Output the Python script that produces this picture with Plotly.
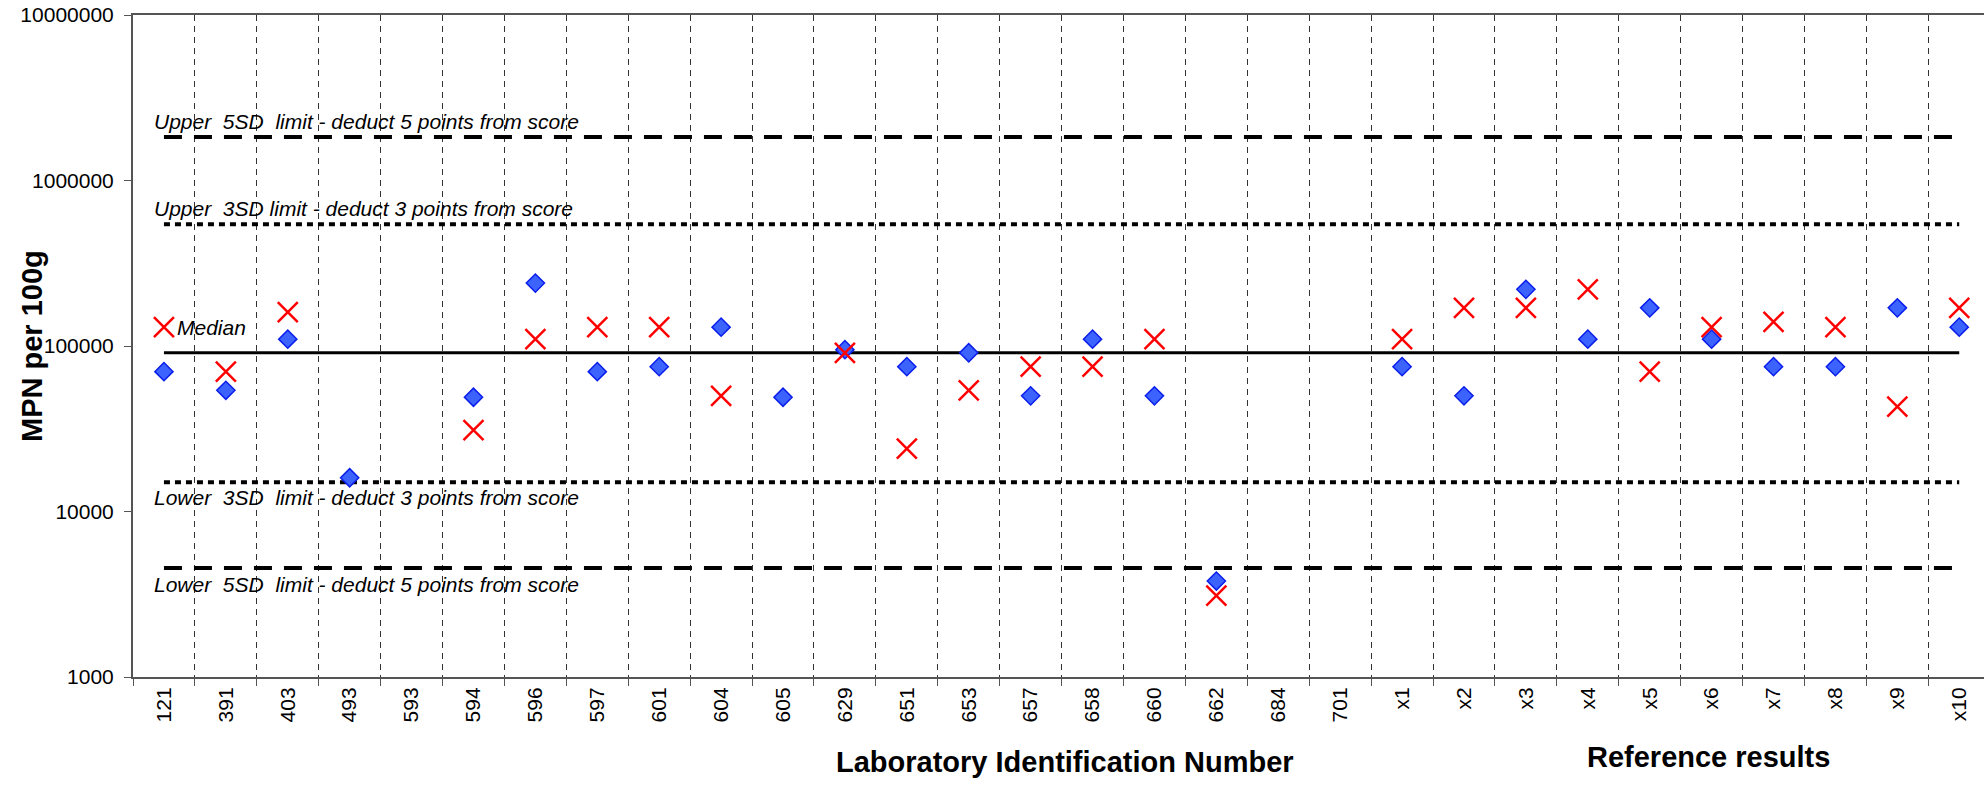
import math
import plotly.graph_objects as go

categories = ["121", "391", "403", "493", "593", "594", "596", "597", "601", "604",
              "605", "629", "651", "653", "657", "658", "660", "662", "684", "701",
              "x1", "x2", "x3", "x4", "x5", "x6", "x7", "x8", "x9", "x10"]

sample_a = [70000, 54000, 110000, 16000, None, 49000, 240000, 70000, 75000, 130000,
            49000, 95000, 75000, 91000, 50000, 110000, 50000, 3800, None, None,
            75000, 50000, 220000, 110000, 170000, 110000, 75000, 75000, 170000, 130000]

sample_b = [130000, 70000, 160000, None, None, 31000, 110000, 130000, 130000, 50000,
            None, 91000, 24000, 54000, 75000, 75000, 110000, 3100, None, None,
            110000, 170000, 170000, 220000, 70000, 130000, 140000, 130000, 43000, 170000]

limit_names = ["upper5", "upper3", "median", "lower3", "lower5"]
limit_values = [1830000, 545000, 91000, 15000, 4550]
limit_labels = ["Upper\u00a0\u00a05SD\u00a0\u00a0limit - deduct 5 points from score",
                "Upper\u00a0\u00a03SD limit - deduct 3 points from score",
                "Median",
                "Lower\u00a0\u00a03SD\u00a0\u00a0limit - deduct 3 points from score",
                "Lower\u00a0\u00a05SD\u00a0\u00a0limit - deduct 5 points from score"]

y_tick_values = [1000, 10000, 100000, 1000000, 10000000]
y_tick_text = ["1000", "10000", "100000", "1000000", "10000000"]

FONT = "Liberation Sans, Arial, sans-serif"

line_styles = {
    "upper5": dict(color="black", width=4, dash="18px,12px"),
    "upper3": dict(color="black", width=4, dash="6px,5px"),
    "median": dict(color="black", width=3),
    "lower3": dict(color="black", width=4, dash="6px,5px"),
    "lower5": dict(color="black", width=4, dash="18px,12px"),
}
label_shift = {"upper5": (-12, 16), "upper3": (-12, 16), "median": (11, 25),
               "lower3": (-12, -15), "lower5": (-12, -16)}

fig = go.Figure()

for name, val in zip(limit_names, limit_values):
    fig.add_trace(go.Scatter(x=[categories[0], categories[-1]], y=[val, val],
                             mode="lines", line=line_styles[name],
                             hoverinfo="skip", showlegend=False))

fig.add_trace(go.Scatter(x=categories, y=sample_a, mode="markers", name="A",
                         marker=dict(symbol="diamond", size=14, color="#3D63FF",
                                     line=dict(color="#0A1EEB", width=1.5)),
                         showlegend=False))
fig.add_trace(go.Scatter(x=categories, y=sample_b, mode="markers", name="B",
                         marker=dict(symbol="x-thin", size=20, color="#FF0000",
                                     line=dict(color="#FF0000", width=2.5)),
                         showlegend=False))

first_idx = categories.index(categories[0])
annotations = []
for name, val, lab in zip(limit_names, limit_values, limit_labels):
    dx, dy = label_shift[name]
    annotations.append(dict(x=first_idx, y=math.log10(val), xref="x", yref="y", text=lab,
                            showarrow=False, xanchor="left", yanchor="middle",
                            xshift=dx, yshift=dy,
                            font=dict(family=FONT, size=21, color="black", style="italic")))

annotations.append(dict(x=0, y=0.5, xref="paper", yref="paper", text="<b>MPN per 100g</b>",
                        showarrow=False, textangle=-90, xanchor="center", yanchor="middle",
                        xshift=-101, font=dict(family=FONT, size=29, color="black")))
annotations.append(dict(x=0.5035, y=0, xref="paper", yref="paper",
                        text="<b>Laboratory Identification Number</b>",
                        showarrow=False, xanchor="center", yanchor="middle",
                        yshift=-85, font=dict(family=FONT, size=29, color="black")))
annotations.append(dict(x=0.851, y=0, xref="paper", yref="paper",
                        text="<b>Reference results</b>",
                        showarrow=False, xanchor="center", yanchor="middle",
                        yshift=-80, font=dict(family=FONT, size=29, color="black")))

fig.update_layout(
    width=1984, height=787,
    margin=dict(l=133, r=0, t=15, b=110),
    plot_bgcolor="white", paper_bgcolor="white",
    showlegend=False,
    font=dict(family=FONT, color="black"),
    annotations=annotations,
    xaxis=dict(type="category", categoryorder="array", categoryarray=categories,
               range=[-0.5, 29.4], tickson="boundaries",
               showgrid=True, gridcolor="#333333", gridwidth=1, griddash="6px,5px",
               ticks="outside", ticklen=7, tickcolor="#555555", tickwidth=1,
               showline=True, linecolor="#555555", linewidth=2, mirror=True,
               tickangle=-90, tickfont=dict(family=FONT, size=21, color="black"),
               zeroline=False, automargin=False),
    yaxis=dict(type="log", range=[3, 7], tickvals=y_tick_values, ticktext=y_tick_text,
               ticks="outside", ticklen=7, tickcolor="#555555", tickwidth=1,
               showline=True, linecolor="#555555", linewidth=2,
               showgrid=False, zeroline=False, ticklabelstandoff=6,
               tickfont=dict(family=FONT, size=21, color="black"), automargin=False),
)

fig.write_html("out.html", config={"displayModeBar": False},
               post_script="document.body.style.margin='0';document.body.style.overflow='hidden';")
